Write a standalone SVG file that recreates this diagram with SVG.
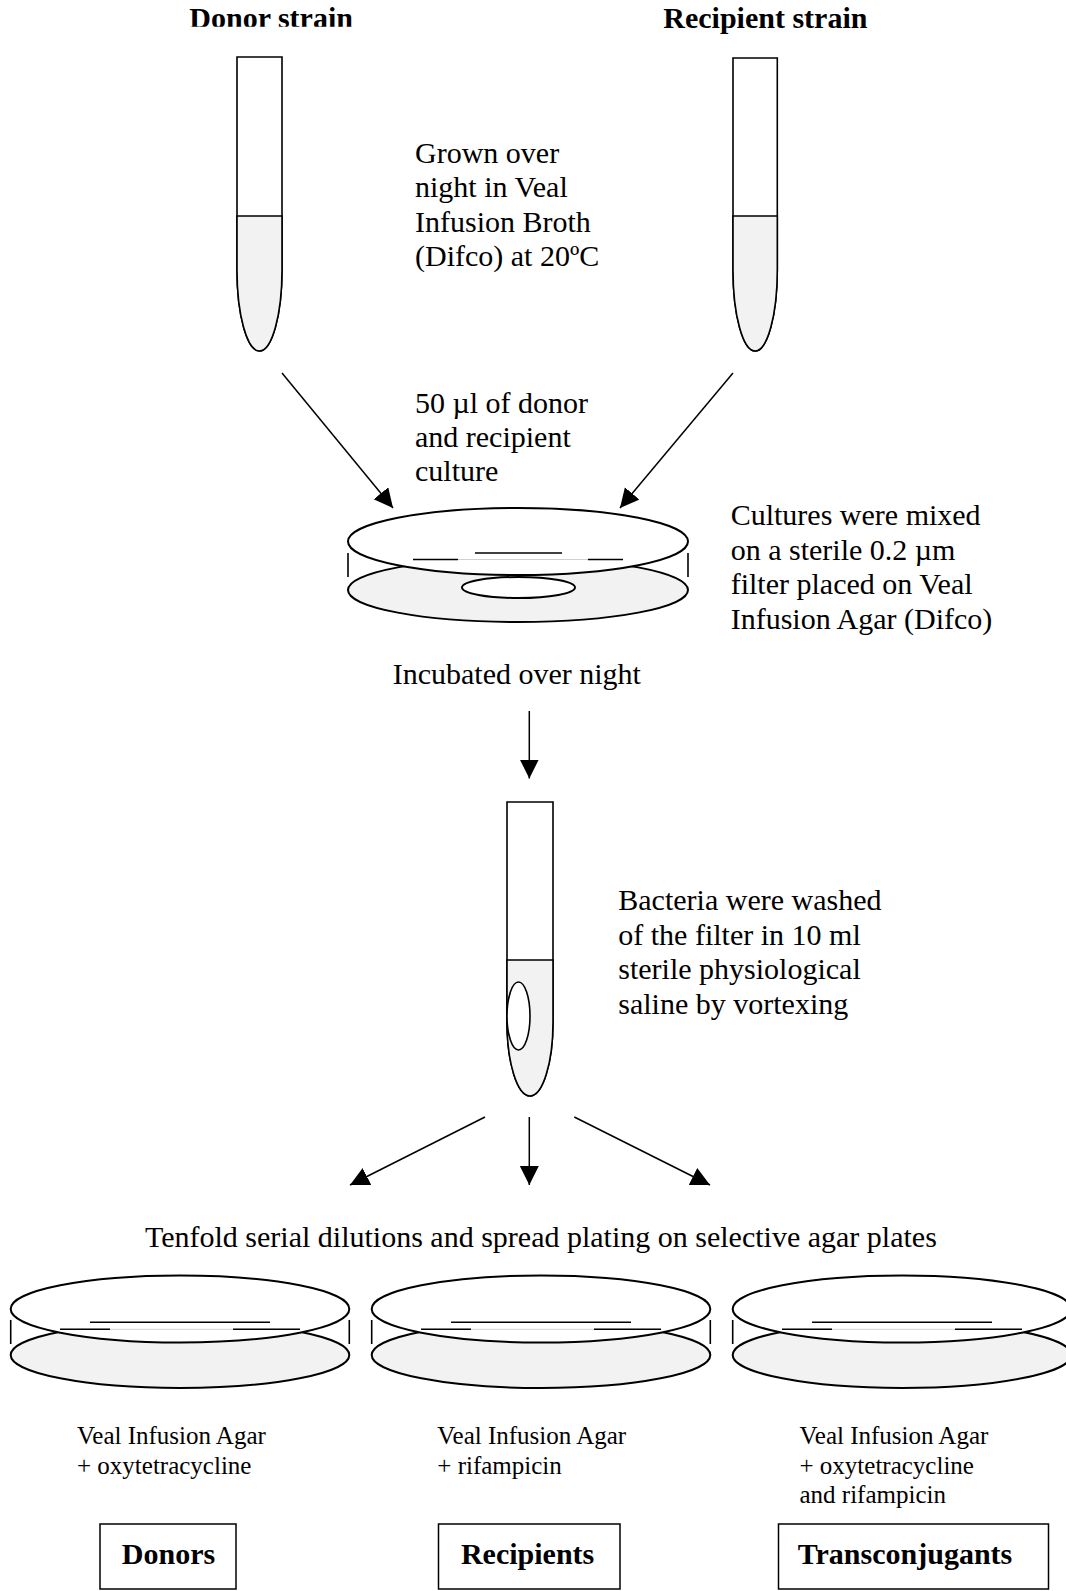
<svg xmlns="http://www.w3.org/2000/svg" width="1066" height="1591" viewBox="0 0 1066 1591">
<style>
text{font-family:"Liberation Serif","Times New Roman",serif;fill:#000}
.t30{font-size:30px}
.t24{font-size:25px}
.b{font-weight:bold;font-size:30px}
.glass{fill:#fff;stroke:#000;stroke-width:1.6}
.liq{fill:#f2f2f2;stroke:#000;stroke-width:1.6}
.lid{fill:#fff;stroke:#000;stroke-width:2}
.base{fill:#f2f2f2;stroke:#000;stroke-width:2}
.side{stroke:#000;stroke-width:1.6}
.art{stroke:#000;stroke-width:1.5}
.artg{stroke:#d0d0d0;stroke-width:1}
.arrow{stroke:#000;stroke-width:1.5;fill:none;marker-end:url(#ah)}
.box{fill:#fff;stroke:#000;stroke-width:1.5}
</style>
<defs>
<marker id="ah" markerUnits="userSpaceOnUse" markerWidth="20" markerHeight="20" refX="19" refY="9.5" orient="auto">
<path d="M0,0 L19,9.5 L0,19 Z" fill="#000"/>
</marker>
<clipPath id="clipTop"><rect x="0" y="0" width="1066" height="26.7"/></clipPath>
</defs>
<rect width="1066" height="1591" fill="#fff"/>

<g id="donor-label"><text class="b" x="189.3" y="28.3" clip-path="url(#clipTop)">Donor strain</text></g>
<g id="recipient-label"><text class="b" x="663.3" y="28.3">Recipient strain</text></g>

<g id="donor-tube">
<path class="glass" d="M237,57 H282 V270 A22.5,81 0 0 1 237,270 Z"/>
<path class="liq" d="M237,216 H282 V270 A22.5,81 0 0 1 237,270 Z"/>
</g>
<g id="recipient-tube">
<path class="glass" d="M733,58 H777.3 V270 A22.15,81 0 0 1 733,270 Z"/>
<path class="liq" d="M733,216 H777.3 V270 A22.15,81 0 0 1 733,270 Z"/>
</g>

<g id="grown-text">
<text class="t30" x="415" y="162.7">Grown over</text>
<text class="t30" x="415" y="197.2">night in Veal</text>
<text class="t30" x="415" y="231.7">Infusion Broth</text>
<text class="t30" x="415" y="266.2">(Difco) at 20ºC</text>
</g>

<g id="volume-text">
<text class="t30" x="415" y="413">50 µl of donor</text>
<text class="t30" x="415" y="447">and recipient</text>
<text class="t30" x="415" y="481">culture</text>
</g>

<g id="mix-plate">
<ellipse class="base" cx="518" cy="590" rx="170" ry="32"/>
<ellipse class="lid" cx="518" cy="541.5" rx="170" ry="33.5"/>
<line class="side" x1="348" y1="553" x2="348" y2="577"/>
<line class="side" x1="688" y1="553" x2="688" y2="577"/>
<line class="art" x1="475" y1="553" x2="562" y2="553"/>
<line class="artg" x1="413" y1="559.5" x2="623" y2="559.5"/>
<line class="art" x1="413" y1="559.5" x2="458" y2="559.5"/>
<line class="art" x1="588" y1="559.5" x2="623" y2="559.5"/>
<ellipse class="lid" cx="518.5" cy="587.5" rx="56.5" ry="10.5"/>
</g>

<g id="mix-text">
<text class="t30" x="730.7" y="525">Cultures were mixed</text>
<text class="t30" x="730.7" y="559.5">on a sterile 0.2 µm</text>
<text class="t30" x="730.7" y="594">filter placed on Veal</text>
<text class="t30" x="730.7" y="628.5">Infusion Agar (Difco)</text>
</g>

<g id="incubated-text"><text class="t30" x="392.7" y="684">Incubated over night</text></g>

<g id="wash-tube">
<path class="glass" d="M507,802 H553 V1022 A23,74 0 0 1 507,1022 Z"/>
<path class="liq" d="M507,960 H553 V1022 A23,74 0 0 1 507,1022 Z"/>
<ellipse class="lid" style="stroke-width:1.6" cx="518.5" cy="1016" rx="11.5" ry="34"/>
</g>

<g id="wash-text">
<text class="t30" x="618.3" y="910">Bacteria were washed</text>
<text class="t30" x="618.3" y="944.5">of the filter in 10 ml</text>
<text class="t30" x="618.3" y="979">sterile physiological</text>
<text class="t30" x="618.3" y="1013.5">saline by vortexing</text>
</g>

<g id="dilution-text"><text class="t30" x="145" y="1247">Tenfold serial dilutions and spread plating on selective agar plates</text></g>

<g id="plate-donors">
<ellipse class="base" cx="180" cy="1355" rx="169.3" ry="33"/>
<ellipse class="lid" cx="180" cy="1309" rx="169.3" ry="33.5"/>
<line class="side" x1="10.7" y1="1320" x2="10.7" y2="1344"/>
<line class="side" x1="349.3" y1="1320" x2="349.3" y2="1344"/>
<line class="art" x1="90" y1="1322.3" x2="270" y2="1322.3"/>
<line class="artg" x1="60" y1="1329.3" x2="300" y2="1329.3"/>
<line class="art" x1="60" y1="1329.3" x2="110" y2="1329.3"/>
<line class="art" x1="233" y1="1329.3" x2="300" y2="1329.3"/>
</g>
<g id="plate-recipients">
<ellipse class="base" cx="541" cy="1355" rx="169.3" ry="33"/>
<ellipse class="lid" cx="541" cy="1309" rx="169.3" ry="33.5"/>
<line class="side" x1="371.7" y1="1320" x2="371.7" y2="1344"/>
<line class="side" x1="710.3" y1="1320" x2="710.3" y2="1344"/>
<line class="art" x1="451" y1="1322.3" x2="631" y2="1322.3"/>
<line class="artg" x1="421" y1="1329.3" x2="661" y2="1329.3"/>
<line class="art" x1="421" y1="1329.3" x2="471" y2="1329.3"/>
<line class="art" x1="594" y1="1329.3" x2="661" y2="1329.3"/>
</g>
<g id="plate-transconjugants">
<ellipse class="base" cx="902" cy="1355" rx="169.3" ry="33"/>
<ellipse class="lid" cx="902" cy="1309" rx="169.3" ry="33.5"/>
<line class="side" x1="732.7" y1="1320" x2="732.7" y2="1344"/>
<line class="art" x1="812" y1="1322.3" x2="992" y2="1322.3"/>
<line class="artg" x1="782" y1="1329.3" x2="1022" y2="1329.3"/>
<line class="art" x1="782" y1="1329.3" x2="832" y2="1329.3"/>
<line class="art" x1="955" y1="1329.3" x2="1022" y2="1329.3"/>
</g>

<g id="medium-donors">
<text class="t24" x="77" y="1444">Veal Infusion Agar</text>
<text class="t24" x="77" y="1473.5">+ oxytetracycline</text>
</g>
<g id="medium-recipients">
<text class="t24" x="437.3" y="1444">Veal Infusion Agar</text>
<text class="t24" x="437.3" y="1473.5">+ rifampicin</text>
</g>
<g id="medium-transconjugants">
<text class="t24" x="799.5" y="1444">Veal Infusion Agar</text>
<text class="t24" x="799.5" y="1473.5">+ oxytetracycline</text>
<text class="t24" x="799.5" y="1502.5">and rifampicin</text>
</g>

<g id="box-donors">
<rect class="box" x="100" y="1524" width="136" height="65"/>
<text class="b" x="168.5" y="1564" text-anchor="middle">Donors</text>
</g>
<g id="box-recipients">
<rect class="box" x="438.5" y="1524" width="181.5" height="65"/>
<text class="b" x="527.6" y="1564" text-anchor="middle">Recipients</text>
</g>
<g id="box-transconjugants">
<rect class="box" x="778.5" y="1524" width="270" height="65"/>
<text class="b" x="905" y="1564" text-anchor="middle">Transconjugants</text>
</g>

<g id="connectors">
<line class="arrow" x1="282" y1="373" x2="393" y2="508"/>
<line class="arrow" x1="733" y1="373" x2="620" y2="508"/>
<line class="arrow" x1="529.3" y1="711" x2="529.3" y2="778.5"/>
<line class="arrow" x1="485" y1="1117" x2="350" y2="1185"/>
<line class="arrow" x1="529.3" y1="1117" x2="529.3" y2="1185"/>
<line class="arrow" x1="574.3" y1="1117" x2="710" y2="1185"/>
</g>
</svg>
